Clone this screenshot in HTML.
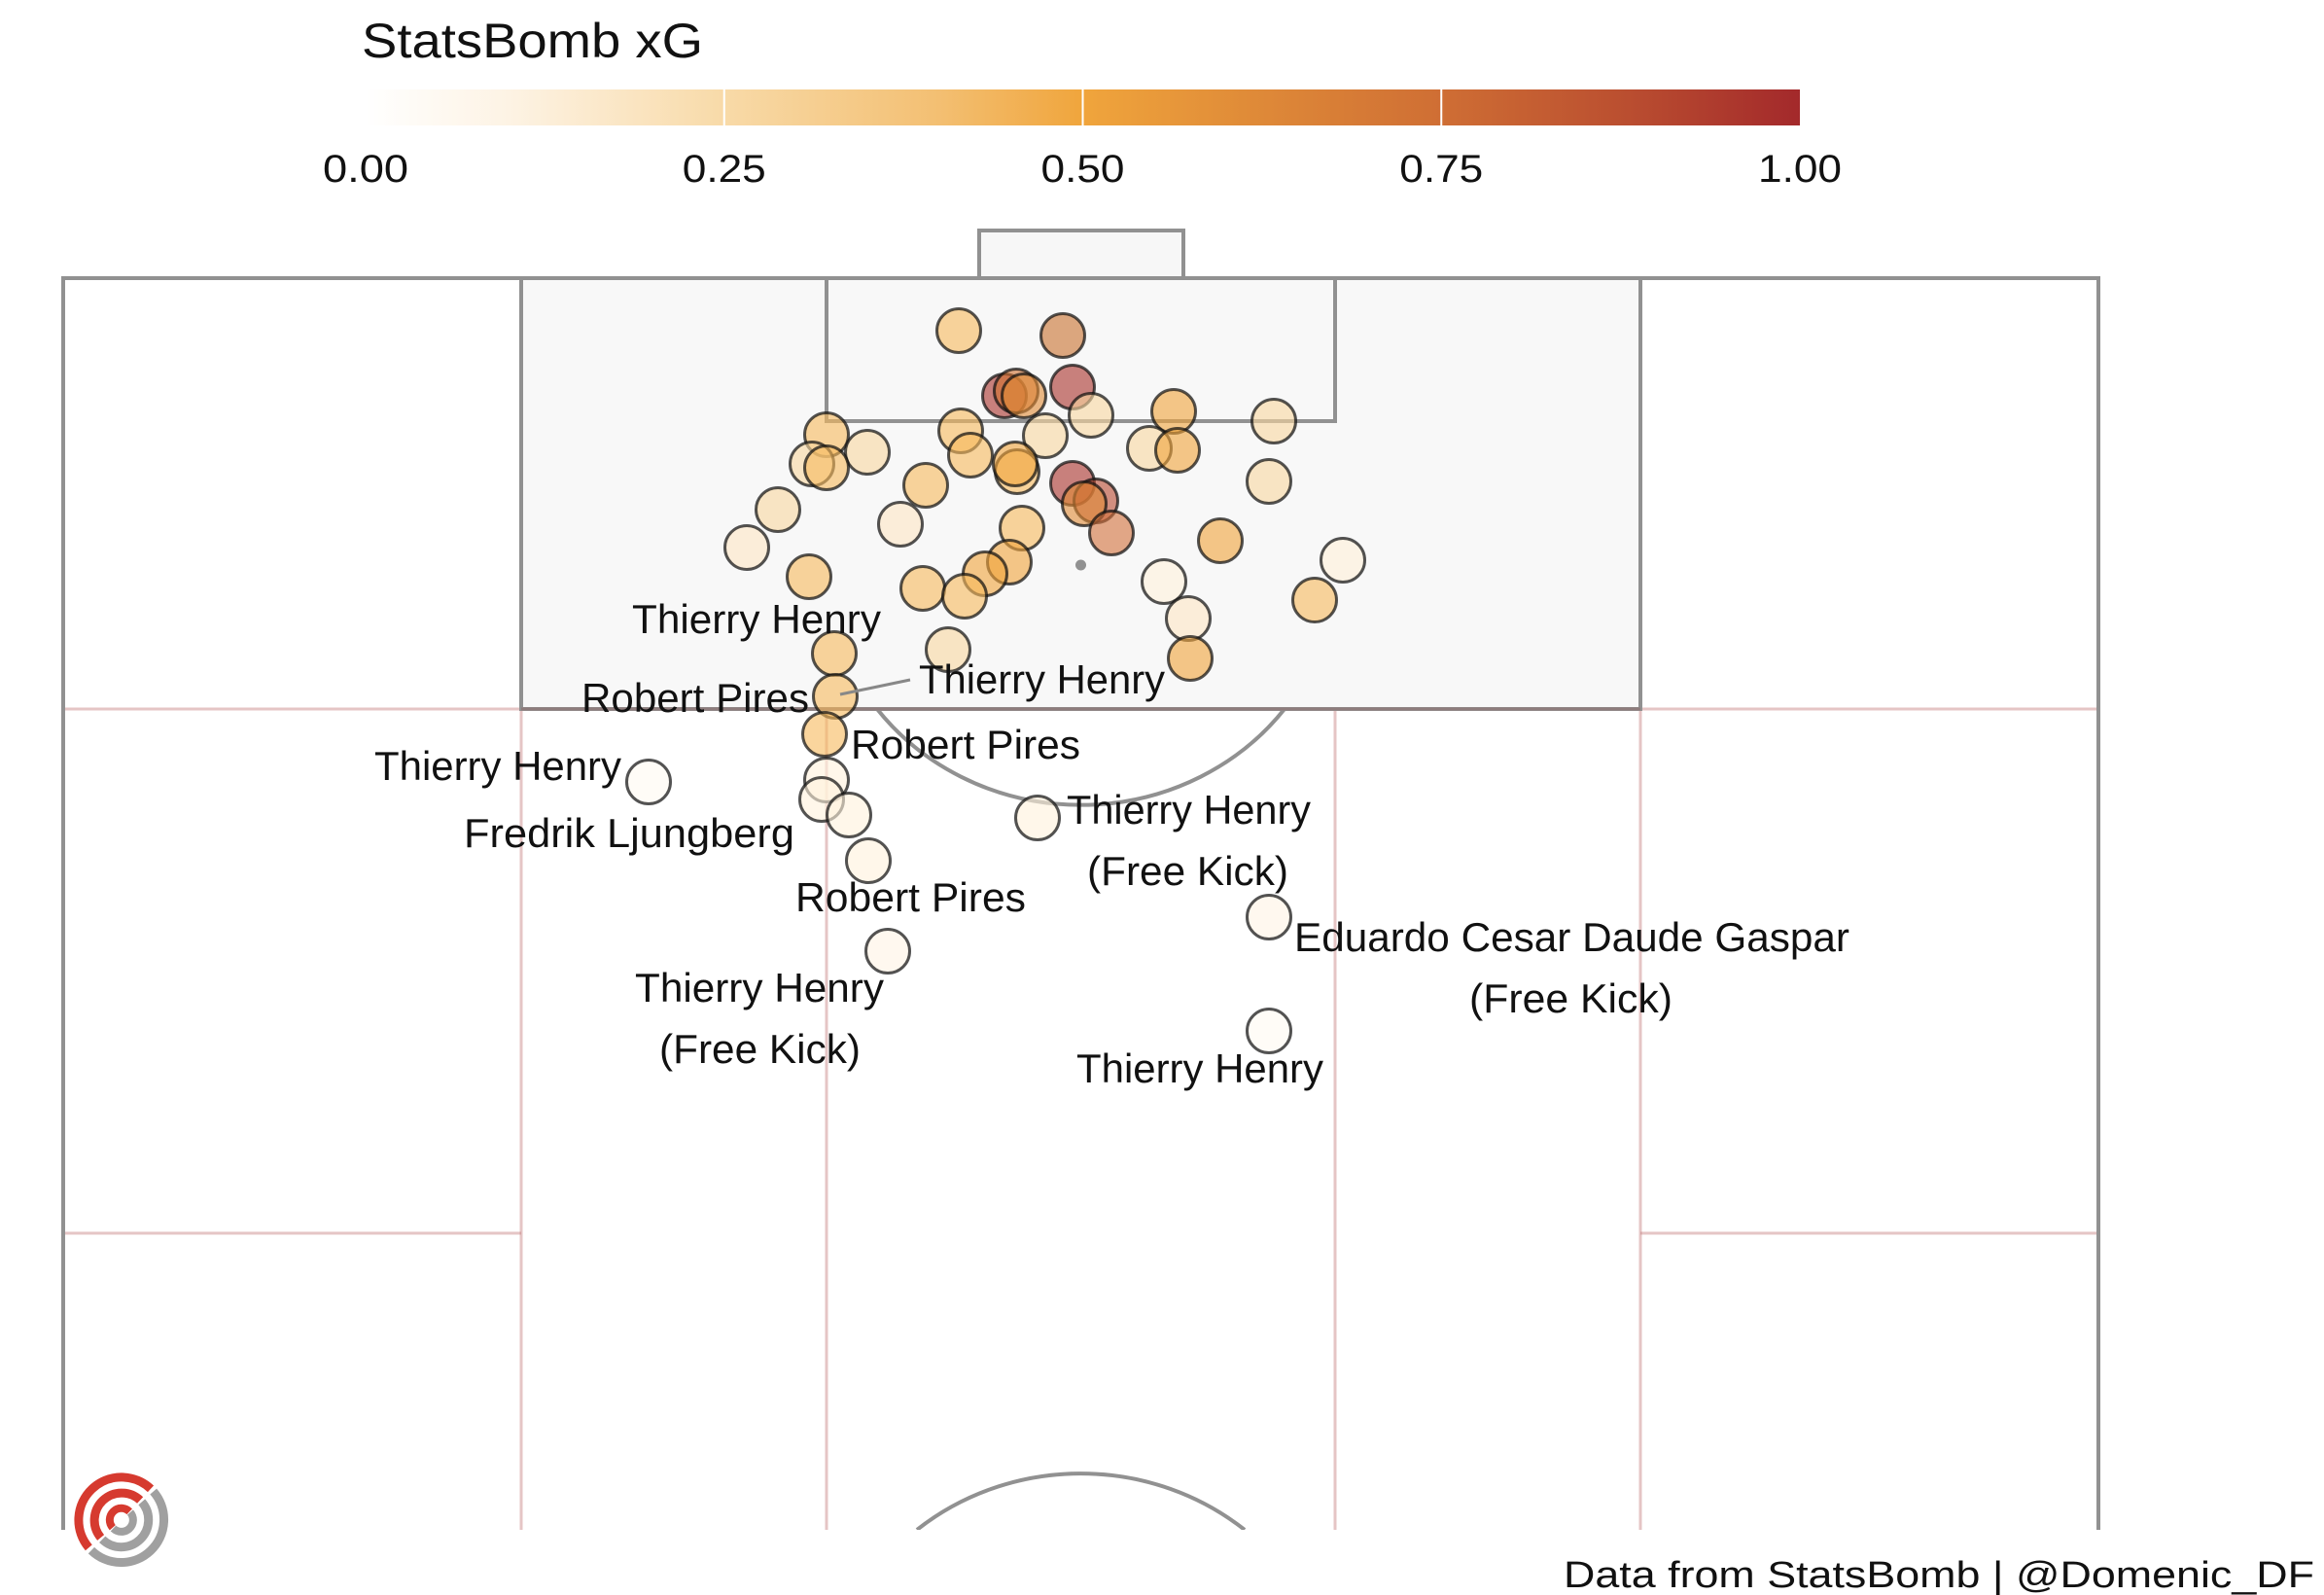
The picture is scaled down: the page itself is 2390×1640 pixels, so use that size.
<!DOCTYPE html>
<html>
<head>
<meta charset="utf-8">
<style>
  html, body { margin: 0; padding: 0; background: #ffffff; }
  svg { display: block; }
  text { font-family: "Liberation Sans", "DejaVu Sans", sans-serif; fill: #111111; }
</style>
</head>
<body>
<svg width="2390" height="1640" viewBox="0 0 2390 1640" xmlns="http://www.w3.org/2000/svg">
  <defs>
    <linearGradient id="cb" x1="0" y1="0" x2="1" y2="0">
      <stop offset="0" stop-color="#ffffff"/>
      <stop offset="0.10" stop-color="#fdf3e4"/>
      <stop offset="0.25" stop-color="#f8daa8"/>
      <stop offset="0.40" stop-color="#f3bf72"/>
      <stop offset="0.50" stop-color="#f0a53c"/>
      <stop offset="0.62" stop-color="#df8a38"/>
      <stop offset="0.75" stop-color="#cf6e34"/>
      <stop offset="0.88" stop-color="#ba4e30"/>
      <stop offset="1" stop-color="#a3292b"/>
    </linearGradient>
    <clipPath id="pitchclip">
      <rect x="0" y="0" width="2390" height="1573"/>
    </clipPath>
  </defs>

  <rect x="0" y="0" width="2390" height="1640" fill="#ffffff"/>

  <!-- Colorbar -->
  <text x="372" y="59" font-size="50" textLength="351" lengthAdjust="spacingAndGlyphs">StatsBomb xG</text>
  <rect x="376" y="92" width="1475" height="37" fill="url(#cb)"/>
  <line x1="744.75" y1="92" x2="744.75" y2="129" stroke="#ffffff" stroke-width="2"/>
  <line x1="1113.5" y1="92" x2="1113.5" y2="129" stroke="#ffffff" stroke-width="2"/>
  <line x1="1482.25" y1="92" x2="1482.25" y2="129" stroke="#ffffff" stroke-width="2"/>
  <g font-size="40" text-anchor="middle">
    <text x="376" y="187" textLength="88" lengthAdjust="spacingAndGlyphs">0.00</text>
    <text x="744.75" y="187" textLength="86" lengthAdjust="spacingAndGlyphs">0.25</text>
    <text x="1113.5" y="187" textLength="86" lengthAdjust="spacingAndGlyphs">0.50</text>
    <text x="1482.25" y="187" textLength="86" lengthAdjust="spacingAndGlyphs">0.75</text>
    <text x="1851" y="187" textLength="86" lengthAdjust="spacingAndGlyphs">1.00</text>
  </g>

  <!-- Pitch -->
  <g clip-path="url(#pitchclip)">
    <!-- penalty area fill -->
    <rect x="536" y="286" width="1151" height="443" fill="#f8f8f8"/>
    <!-- goal -->
    <rect x="1007" y="237" width="210" height="49" fill="#f7f7f7" stroke="#919191" stroke-width="4"/>

    <!-- zone lines (pink) -->
    <g stroke="#be6e6e" stroke-opacity="0.4" stroke-width="3" fill="none">
      <line x1="65" y1="729" x2="2158" y2="729"/>
      <line x1="65" y1="1268" x2="536" y2="1268"/>
      <line x1="1687" y1="1268" x2="2158" y2="1268"/>
      <line x1="536" y1="729" x2="536" y2="1573"/>
      <line x1="850" y1="729" x2="850" y2="1573"/>
      <line x1="1373" y1="729" x2="1373" y2="1573"/>
      <line x1="1687" y1="729" x2="1687" y2="1573"/>
    </g>

    <!-- pitch lines (grey) -->
    <g stroke="#919191" stroke-width="4" fill="none">
      <line x1="65" y1="286" x2="65" y2="1573"/>
      <line x1="2158" y1="286" x2="2158" y2="1573"/>
      <line x1="63" y1="286" x2="2160" y2="286"/>
      <rect x="536" y="286" width="1151" height="443"/>
      <rect x="850" y="286" width="523" height="147"/>
      <path d="M 902 729 A 262 247 0 0 0 1321 729"/>
      <path d="M 943 1573 A 262 247 0 0 1 1280 1573"/>
    </g>
    <!-- darker overlap of penalty area bottom line with zone line -->
    <line x1="536" y1="729" x2="1687" y2="729" stroke="#8a5555" stroke-opacity="0.35" stroke-width="3"/>
    <circle cx="1111.5" cy="581" r="5.5" fill="#919191"/>
  </g>

  <!-- Shots -->
  <g stroke="#111111" stroke-opacity="0.72" stroke-width="3" fill-opacity="0.6">
    <circle cx="986" cy="340" r="22.5" fill="#f6b95c"/>
    <circle cx="1093" cy="345" r="22.5" fill="#c86f2d"/>
    <circle cx="1103" cy="398" r="22.5" fill="#a8302a"/>
    <circle cx="1033" cy="407" r="22.5" fill="#a8302a"/>
    <circle cx="1045" cy="402" r="22.5" fill="#d0702e"/>
    <circle cx="1053" cy="407" r="22.5" fill="#e08a35"/>
    <circle cx="1122" cy="427" r="22.5" fill="#f9d7a0"/>
    <circle cx="1207" cy="423" r="22.5" fill="#f0a33a"/>
    <circle cx="1310" cy="433" r="22.5" fill="#f9d7a0"/>
    <circle cx="850" cy="447" r="22.5" fill="#f6b95c"/>
    <circle cx="892" cy="465" r="22.5" fill="#f9d7a0"/>
    <circle cx="835" cy="477" r="22.5" fill="#f9d7a0"/>
    <circle cx="850" cy="481" r="22.5" fill="#f6b95c"/>
    <circle cx="988" cy="443" r="22.5" fill="#f6b95c"/>
    <circle cx="998" cy="468" r="22.5" fill="#f6b95c"/>
    <circle cx="1075" cy="448" r="22.5" fill="#f9d7a0"/>
    <circle cx="1046" cy="485" r="22.5" fill="#f6b95c"/>
    <circle cx="1044" cy="477" r="22.5" fill="#f0a33a"/>
    <circle cx="1182" cy="461" r="22.5" fill="#f9d7a0"/>
    <circle cx="1211" cy="463" r="22.5" fill="#f0a33a"/>
    <circle cx="1305" cy="495" r="22.5" fill="#f9d7a0"/>
    <circle cx="952" cy="499" r="22.5" fill="#f6b95c"/>
    <circle cx="1103" cy="497" r="22.5" fill="#a8302a"/>
    <circle cx="1127" cy="515" r="22.5" fill="#b8472e"/>
    <circle cx="1115" cy="518" r="22.5" fill="#e08a35"/>
    <circle cx="1143" cy="548" r="22.5" fill="#d2703a"/>
    <circle cx="800" cy="524" r="22.5" fill="#f9d7a0"/>
    <circle cx="926" cy="539" r="22.5" fill="#fde6c4"/>
    <circle cx="1051" cy="543" r="22.5" fill="#f6b95c"/>
    <circle cx="768" cy="563" r="22.5" fill="#fde6c4"/>
    <circle cx="1255" cy="556" r="22.5" fill="#f0a33a"/>
    <circle cx="1381" cy="576" r="22.5" fill="#fff0d8"/>
    <circle cx="832" cy="593" r="22.5" fill="#f6b95c"/>
    <circle cx="1038" cy="578" r="22.5" fill="#f0a33a"/>
    <circle cx="1013" cy="590" r="22.5" fill="#f0a33a"/>
    <circle cx="949" cy="605" r="22.5" fill="#f6b95c"/>
    <circle cx="992" cy="613" r="22.5" fill="#f6b95c"/>
    <circle cx="1197" cy="598" r="22.5" fill="#fff2dc"/>
    <circle cx="1222" cy="636" r="22.5" fill="#fde6c4"/>
    <circle cx="1224" cy="677" r="22.5" fill="#f0a33a"/>
    <circle cx="1352" cy="617" r="22.5" fill="#f6b95c"/>
    <circle cx="975" cy="668" r="22.5" fill="#f9d7a0"/>
    <circle cx="858" cy="672" r="22.5" fill="#f6b95c"/>
    <circle cx="859" cy="716" r="22.5" fill="#f6b95c"/>
    <circle cx="848" cy="755" r="22.5" fill="#f6b95c"/>
    <circle cx="850" cy="802" r="22.5" fill="#fff2dc"/>
    <circle cx="845" cy="822" r="22.5" fill="#fff2dc"/>
    <circle cx="873" cy="838" r="22.5" fill="#fff2dc"/>
    <circle cx="893" cy="885" r="22.5" fill="#fff2dc"/>
    <circle cx="667" cy="804" r="22.5" fill="#fffaf2"/>
    <circle cx="913" cy="978" r="22.5" fill="#fff4e4"/>
    <circle cx="1067" cy="841" r="22.5" fill="#fff2dc"/>
    <circle cx="1305" cy="943" r="22.5" fill="#fff4e4"/>
    <circle cx="1305" cy="1060" r="22.5" fill="#fffaf2"/>
  </g>

  <!-- leader line -->
  <line x1="864" y1="714" x2="936" y2="699" stroke="#888888" stroke-width="3"/>

  <!-- Labels -->
  <g font-size="42">
    <text x="650" y="651" textLength="256" lengthAdjust="spacingAndGlyphs">Thierry Henry</text>
    <text x="598" y="732" textLength="234" lengthAdjust="spacingAndGlyphs">Robert Pires</text>
    <text x="945" y="713" textLength="253" lengthAdjust="spacingAndGlyphs">Thierry Henry</text>
    <text x="875" y="780" textLength="236" lengthAdjust="spacingAndGlyphs">Robert Pires</text>
    <text x="385" y="802" textLength="254" lengthAdjust="spacingAndGlyphs">Thierry Henry</text>
    <text x="477" y="871" textLength="340" lengthAdjust="spacingAndGlyphs">Fredrik Ljungberg</text>
    <text x="818" y="937" textLength="237" lengthAdjust="spacingAndGlyphs">Robert Pires</text>
    <text x="653" y="1030" textLength="256" lengthAdjust="spacingAndGlyphs">Thierry Henry</text>
    <text x="678" y="1093" textLength="207" lengthAdjust="spacingAndGlyphs">(Free Kick)</text>
    <text x="1097" y="847" textLength="251" lengthAdjust="spacingAndGlyphs">Thierry Henry</text>
    <text x="1118" y="910" textLength="207" lengthAdjust="spacingAndGlyphs">(Free Kick)</text>
    <text x="1331" y="978" textLength="571" lengthAdjust="spacingAndGlyphs">Eduardo Cesar Daude Gaspar</text>
    <text x="1511" y="1041" textLength="209" lengthAdjust="spacingAndGlyphs">(Free Kick)</text>
    <text x="1107" y="1113" textLength="254" lengthAdjust="spacingAndGlyphs">Thierry Henry</text>
  </g>

  <!-- Logo -->
  <g fill="none" stroke-width="9" stroke-linecap="butt">
    <path d="M 91.3 1591.3 A 44 44 0 0 1 155.0 1530.8" stroke="#d63a2f"/>
    <path d="M 157.7 1533.6 A 44 44 0 0 1 93.9 1594.1" stroke="#a0a0a0"/>
    <path d="M 103.6 1581.0 A 28 28 0 0 1 144.1 1542.5" stroke="#d63a2f"/>
    <path d="M 145.8 1544.3 A 28 28 0 0 1 105.2 1582.8" stroke="#a0a0a0"/>
    <path d="M 115.8 1570.7 A 12 12 0 0 1 133.2 1554.2" stroke="#d63a2f" stroke-width="8"/>
    <path d="M 133.9 1555.0 A 12 12 0 0 1 116.5 1571.5" stroke="#a0a0a0" stroke-width="8"/>
  </g>

  <!-- Footer -->
  <text x="1608" y="1632" font-size="38" textLength="772" lengthAdjust="spacingAndGlyphs">Data from StatsBomb |  @Domenic_DF</text>
</svg>
</body>
</html>
